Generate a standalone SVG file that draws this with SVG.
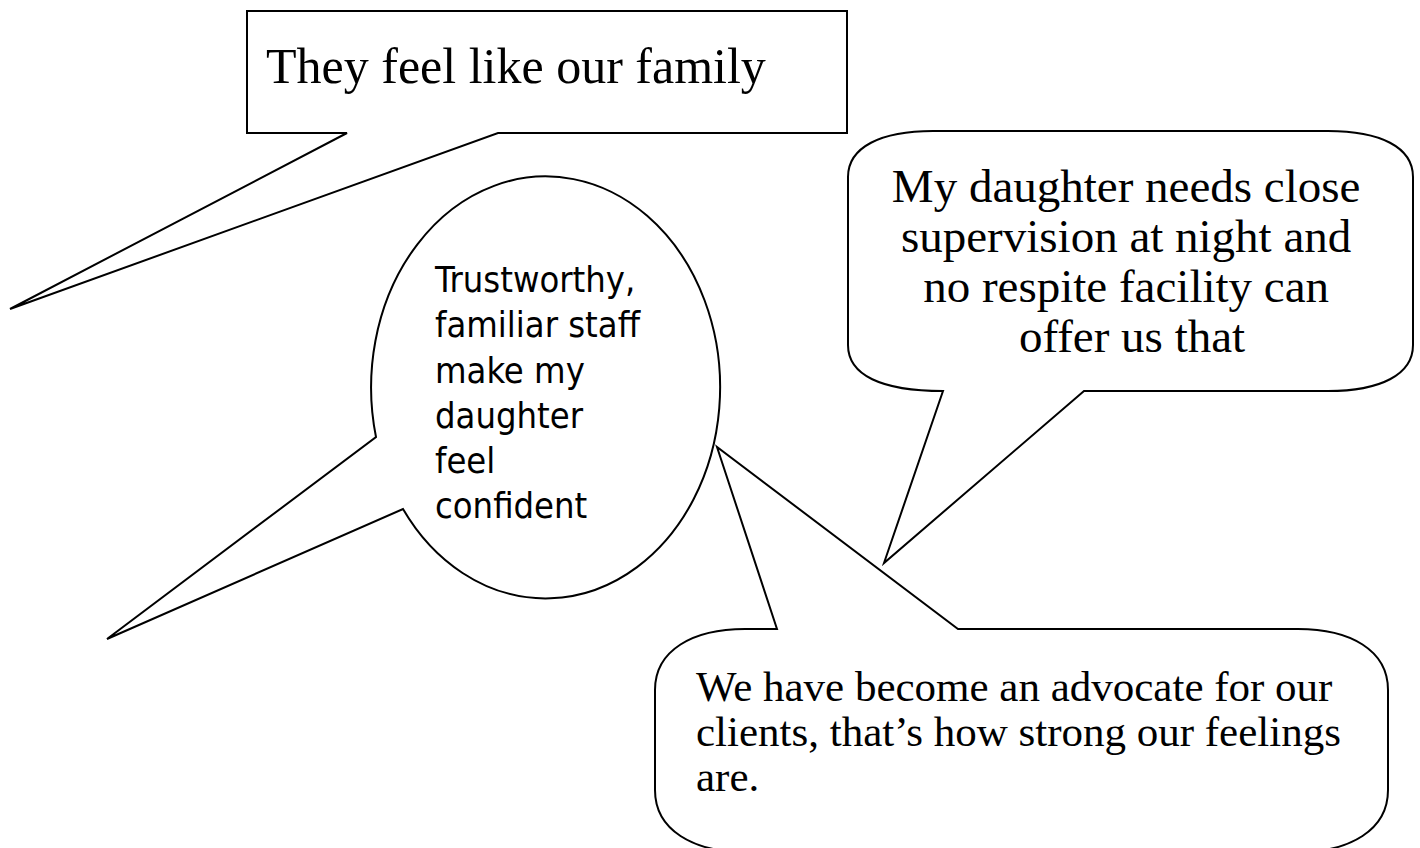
<svg xmlns="http://www.w3.org/2000/svg" width="1420" height="848" viewBox="0 0 1420 848">
<style>
.shape{fill:#fff;stroke:#000;stroke-width:2;stroke-linejoin:miter}
.serif{font-family:"Liberation Serif","Times New Roman",serif;fill:#000}
.sans{font-family:"DejaVu Sans Condensed","DejaVu Sans",sans-serif;font-stretch:condensed;fill:#000}
</style>
<rect width="1420" height="848" fill="#fff"/>
<g id="connectors"></g>
<g id="node-family">
<path class="shape" d="M247,11 L847,11 L847,133 L498,133 L10,309 L347,133 L247,133 Z"/>
<text class="serif" x="266" y="83" font-size="50">They feel like our family</text>
</g>
<g id="node-trust">
<path class="shape" stroke-width="1.8" d="M376,437 A174.5,211 0 1 1 403,509 L107,639 Z"/>
<text class="sans" font-size="36">
<tspan x="435" y="292">Trustworthy,</tspan>
<tspan x="435" y="337">familiar staff</tspan>
<tspan x="435" y="383">make my</tspan>
<tspan x="435" y="428">daughter</tspan>
<tspan x="435" y="473">feel</tspan>
<tspan x="435" y="518">confident</tspan>
</text>
</g>
<g id="node-advocate">
<path class="shape" d="M777,629 L717,447 L958,629 L1298,629 C1350,629 1388,650 1388,690 L1388,790 C1388,830 1350,852 1298,852 L745,852 C693,852 655,830 655,790 L655,690 C655,650 693,629 745,629 Z"/>
<text class="serif" font-size="43">
<tspan x="696" y="701">We have become an advocate for our</tspan>
<tspan x="696" y="746">clients, that’s how strong our feelings</tspan>
<tspan x="696" y="791">are.</tspan>
</text>
</g>
<g id="node-daughter">
<path class="shape" d="M943,391 L884,563 L1084,391 L1328,391 C1380,391 1413,375 1413,345 L1413,177 C1413,147 1380,131 1328,131 L933,131 C881,131 848,147 848,177 L848,345 C848,375 881,391 943,391 Z"/>
<text class="serif" font-size="47" text-anchor="middle">
<tspan x="1132" y="202">My daughter needs close</tspan>
<tspan x="1132" y="252">supervision at night and</tspan>
<tspan x="1132" y="302">no respite facility can</tspan>
<tspan x="1132" y="352">offer us that</tspan>
</text>
</g>
</svg>
